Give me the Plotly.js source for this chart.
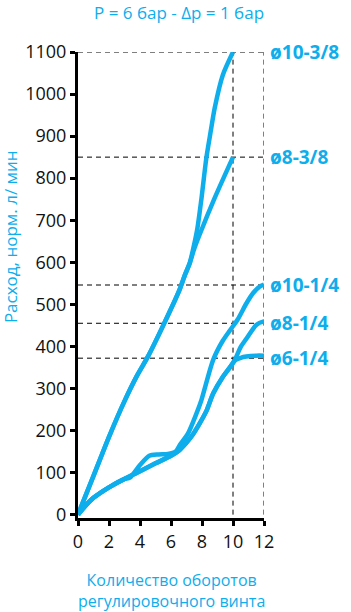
<!DOCTYPE html>
<html>
<head>
<meta charset="utf-8">
<script src="https://cdn.plot.ly/plotly-3.0.1.min.js"></script>
<style>html,body{margin:0;padding:0;background:#fff;}#chart{width:351px;height:612px;}</style>
</head>
<body>
<div id="chart"></div>
<script>
// ---- data ----
const x_10_38 = [0, 1, 2, 3, 3.8, 4.5, 5.5, 6.5, 6.9, 7.2, 7.45, 7.7, 7.96, 8.28, 8.56, 8.82, 9.35, 10];
const y_10_38 = [0, 92, 185, 270, 330, 375, 450, 530, 570, 597, 635, 680, 750, 848, 911, 967, 1046, 1100];

const x_8_38 = [0, 1, 2, 3, 3.8, 4.5, 5.5, 6.5, 6.9, 7.2, 7.5, 7.85, 8.82, 10];
const y_8_38 = [0, 92, 185, 270, 330, 375, 450, 530, 570, 597, 632, 666, 753, 850];

const x_10_14 = [0, 0.5, 1, 2, 3, 3.35, 4.0, 4.6, 5.2, 5.8, 6.3, 6.56, 7.1, 7.64, 7.96, 8.72, 9.35, 9.8, 10.3, 10.86, 11.3, 11.72, 12];
const y_10_14 = [0, 22, 40, 65, 85, 88, 118, 140, 143, 144, 150, 165, 193, 240, 272, 368, 414, 438, 464, 502, 527, 542, 547];

const x_8_14 = [0, 0.5, 1, 2, 3, 4, 5, 6, 6.5, 6.95, 7.4, 7.85, 8.28, 8.72, 9.3, 9.8, 10.1, 10.5, 10.86, 11.5, 11.94, 12];
const y_8_14 = [0, 22, 40, 65, 85, 103, 122, 140, 152, 169, 190, 217, 246, 288, 325, 350, 366, 399, 418, 451, 459, 459];

const x_6_14 = [0, 0.5, 1, 2, 3, 4, 5, 6, 6.5, 6.95, 7.4, 7.85, 8.28, 8.72, 9.3, 9.8, 10.1, 10.5, 10.86, 11.5, 12];
const y_6_14 = [0, 22, 40, 65, 85, 103, 122, 140, 152, 169, 190, 217, 246, 288, 325, 350, 366, 373, 376, 378, 378];

const seriesNames = ['ø10-3/8', 'ø8-3/8', 'ø10-1/4', 'ø8-1/4', 'ø6-1/4'];
const refLevels = [1100, 850, 546, 455, 372];   // dashed horizontal guides / label positions
const refX = [10, 12];                          // dashed vertical guides
const xTicks = [0, 2, 4, 6, 8, 10, 12];
const yTicks = [0, 100, 200, 300, 400, 500, 600, 700, 800, 900, 1000, 1100];

const titleText = 'P = 6 бар - Δp = 1 бар';
const yTitle = 'Расход, норм. л/ мин';
const xTitle = 'Количество оборотов<br>регулировочного винта';

// ---- drawing ----
const BLUE = '#0eadec';
const FONT = 'Open Sans, Noto Sans, sans-serif';
const xs = [x_10_38, x_8_38, x_10_14, x_8_14, x_6_14];
const ys = [y_10_38, y_8_38, y_10_14, y_8_14, y_6_14];

const traces = xs.map((x, i) => ({
  x: x, y: ys[i], name: seriesNames[i], type: 'scatter', mode: 'lines',
  line: {color: BLUE, width: 4.5, shape: 'spline', smoothing: 0.7},
  hoverinfo: 'skip'
}));

const xMax = xTicks[xTicks.length - 1];
const yMax = yTicks[yTicks.length - 1];
const dash = {color: '#000', width: 1, dash: '5px,4px'};
const shapes = [];
refLevels.forEach(v => shapes.push({type: 'line', xref: 'x', yref: 'y', x0: 0, x1: xMax, y0: v, y1: v, line: dash, layer: 'below'}));
refX.forEach(v => shapes.push({type: 'line', xref: 'x', yref: 'y', x0: v, x1: v, y0: 0, y1: yMax, line: dash, layer: 'below'}));

const annotations = seriesNames.map((n, i) => ({
  text: n, xref: 'x', yref: 'y', x: xMax, y: refLevels[i], xanchor: 'left', yanchor: 'middle',
  xshift: 4, showarrow: false, font: {family: FONT, size: 19, color: BLUE, weight: 'bold'}
}));
annotations.push({
  text: yTitle, xref: 'paper', yref: 'paper', x: -0.365, y: 0.603, textangle: -90,
  xanchor: 'center', yanchor: 'middle', showarrow: false,
  font: {family: FONT, size: 17, color: BLUE}
});
annotations.push({
  text: xTitle, xref: 'paper', yref: 'paper', x: 0.505, y: -0.155,
  xanchor: 'center', yanchor: 'middle', showarrow: false,
  font: {family: FONT, size: 16, color: BLUE}
});
annotations.push({
  text: titleText, xref: 'paper', yref: 'paper', x: 0.545, y: 1.085,
  xanchor: 'center', yanchor: 'middle', showarrow: false,
  font: {family: FONT, size: 17, color: BLUE}
});

const layout = {
  width: 351, height: 612,
  margin: {l: 78, r: 87, t: 52, b: 94, pad: 0},
  paper_bgcolor: '#fff', plot_bgcolor: '#fff',
  showlegend: false,
  xaxis: {range: [0, xMax], tickvals: xTicks, ticktext: xTicks.map(String),
          showgrid: false, zeroline: false, showline: true, linecolor: '#000', linewidth: 3,
          ticks: 'outside', ticklen: 5, tickwidth: 3, tickcolor: '#000',
          tickfont: {family: FONT, size: 18, color: '#111'}, fixedrange: true},
  yaxis: {range: [-8, yMax], tickvals: yTicks, ticktext: yTicks.map(String),
          showgrid: false, zeroline: false, showline: true, linecolor: '#000', linewidth: 3,
          ticks: 'outside', ticklen: 5, tickwidth: 3, tickcolor: '#000',
          tickfont: {family: FONT, size: 18, color: '#111'}, fixedrange: true},
  shapes: shapes,
  annotations: annotations
};

Plotly.newPlot('chart', traces, layout, {displayModeBar: false, staticPlot: true});
</script>
</body>
</html>
